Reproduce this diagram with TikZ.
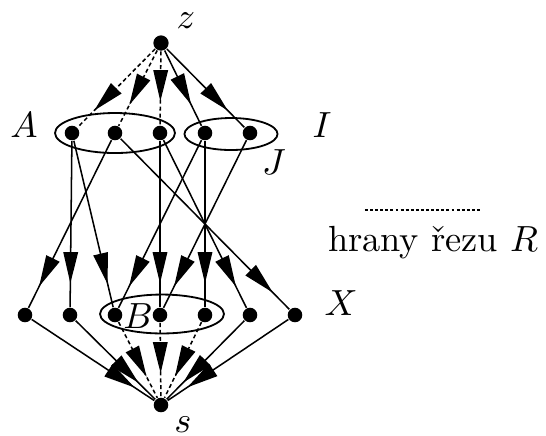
\documentclass[tikz,border=0pt]{standalone}
\usetikzlibrary{arrows.meta,decorations.markings,shapes.geometric}
\tikzset{
  vtx/.style={circle, fill, inner sep=0pt, minimum size=4pt},
  midarr/.style={postaction={decorate}, decoration={markings,
      mark=at position -6.5pt with {\arrow{Triangle[length=8.6pt,width=4pt]}}}},
  edg/.style={line width=0.42pt, midarr},
  cut/.style={edg, dash pattern=on 1.1pt off 0.8pt},
  grp/.style={draw, ellipse, line width=0.5pt, inner sep=0pt},
  lab/.style={font=\normalsize, inner sep=0pt},
}

\begin{document}
\begin{tikzpicture}[x=0.275pt,y=-0.275pt]
\useasboundingbox (0,0) rectangle (546,435);

% groups
\node[grp, minimum width=33pt, minimum height=11pt] (grpA) at (115,133) {};
\node[grp, minimum width=25.6pt, minimum height=8.8pt] (grpI) at (231,134) {};
\node[grp, minimum width=34.1pt, minimum height=10.7pt] (grpB) at (162,314) {};

% vertices
\node[vtx, minimum size=4.2pt] (z) at (161,43) {};
\node[vtx] (s) at (161,405) {};
\foreach \i/\x in {1/72,2/115,3/160,4/205,5/250}
  \node[vtx] (t\i) at (\x,133) {};
\foreach \i/\x in {1/25,2/70,3/115,4/160,5/205,6/250,7/295}
  \node[vtx] (m\i) at (\x,315) {};

% edges
\foreach \t in {1,2,3} \draw[cut] (z) -- (t\t);
\foreach \t in {4,5} \draw[edg] (z) -- (t\t);
\foreach \a/\b in {1/2,1/3,2/1,2/7,3/4,3/6,4/3,4/5,5/4}
  \draw[edg] (t\a) -- (m\b);
\foreach \m in {1,2,6,7} \draw[edg] (m\m) -- (s);
\foreach \m in {3,4,5} \draw[cut] (m\m) -- (s);

% labels
\node[lab] (labz) at (186,21) {$z$};
\node[lab] (labs) at (183,425) {$s$};
\node[lab] (labA) at (24,125) {$A$};
\node[lab] (labI) at (322,125) {$I$};
\node[lab] (labJ) at (274,162) {$J$};
\node[lab] (labB) at (138,316) {$B$};
\node[lab] (labX) at (341,303) {$X$};

% legend
\coordinate (legl) at (365,210);
\coordinate (legr) at (482,210);
\draw[line width=0.4pt, dash pattern=on 0.8pt off 0.6pt] (legl) -- (legr);
\node[lab] (legtxt) at (433,243) {hrany řezu $R$};

\end{tikzpicture}
\end{document}
